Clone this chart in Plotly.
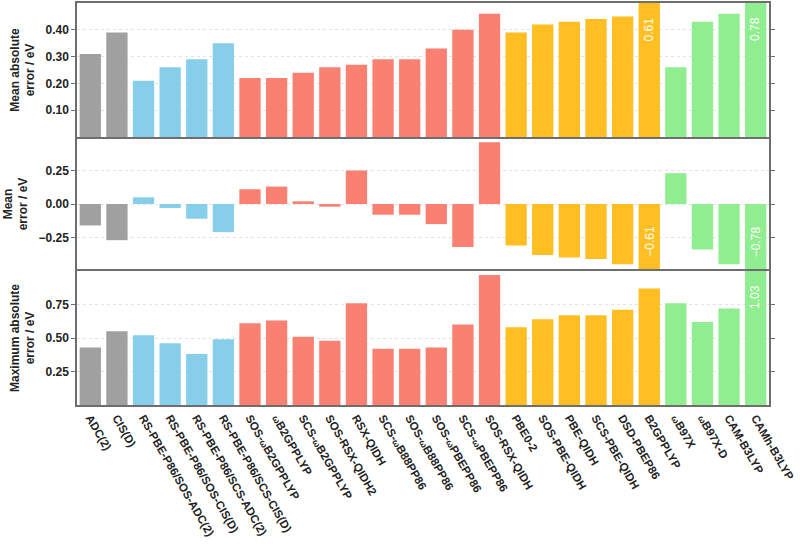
import plotly.graph_objects as go
from plotly.subplots import make_subplots

W = '<span style="font-size:9px">ω</span>'
methods = [
    "ADC(2)", "CIS(D)",
    "RS-PBE-P86/SOS-ADC(2)", "RS-PBE-P86/SOS-CIS(D)",
    "RS-PBE-P86/SCS-ADC(2)", "RS-PBE-P86/SCS-CIS(D)",
    "SOS-" + W + "B2GPPLYP", W + "B2GPPLYP", "SCS-" + W + "B2GPPLYP",
    "SOS-RSX-QIDH2", "RSX-QIDH",
    "SCS-" + W + "B88PP86", "SOS-" + W + "B88PP86",
    "SOS-" + W + "PBEPP86", "SCS-" + W + "PBEPP86", "SOS-RSX-QIDH",
    "PBE0-2", "SOS-PBE-QIDH", "PBE-QIDH", "SCS-PBE-QIDH", "DSD-PBEP86", "B2GPPLYP",
    W + "B97X", W + "B97X-D", "CAM-B3LYP", "CAMh-B3LYP",
]
groups = (["g"] * 2 + ["b"] * 4 + ["s"] * 10 + ["o"] * 6 + ["l"] * 4)

mae = [0.31, 0.39, 0.21, 0.26, 0.29, 0.35, 0.22, 0.22, 0.24, 0.26, 0.27, 0.29, 0.29,
       0.33, 0.40, 0.46, 0.39, 0.42, 0.43, 0.44, 0.45, 0.61, 0.26, 0.43, 0.46, 0.78]
me = [-0.16, -0.27, 0.05, -0.03, -0.11, -0.21, 0.11, 0.13, 0.02, -0.02, 0.25, -0.08, -0.08,
      -0.15, -0.32, 0.46, -0.31, -0.38, -0.40, -0.41, -0.45, -0.61, 0.23, -0.34, -0.45, -0.78]
maxae = [0.43, 0.55, 0.52, 0.46, 0.38, 0.49, 0.61, 0.63, 0.51, 0.48, 0.76, 0.42, 0.42,
         0.43, 0.60, 0.97, 0.58, 0.64, 0.67, 0.67, 0.71, 0.87, 0.76, 0.62, 0.72, 1.03]

palette = {"g": "#A0A0A0", "b": "#87CEEB", "s": "#FA8072", "o": "#FFBF22", "l": "#90EE90"}
colors = [palette[g] for g in groups]

panels = [
    (mae, [0, 0.5], [0.1, 0.2, 0.3, 0.4], "Mean absolute<br>error / eV"),
    (me, [-0.5, 0.5], [-0.25, 0, 0.25], "Mean<br>error / eV"),
    (maxae, [0, 1.0], [0.25, 0.5, 0.75], "Maximum absolute<br>error / eV"),
]

FONT = "Liberation Sans, Arial, sans-serif"
LINE = "#6e6e6e"
fig = make_subplots(rows=3, cols=1, shared_xaxes=True, vertical_spacing=0)
x = list(range(len(methods)))

for i, (vals, rng, tv, title) in enumerate(panels, start=1):
    fig.add_trace(go.Bar(x=x, y=vals, marker=dict(color=colors, line=dict(width=0)),
                         showlegend=False, hoverinfo="skip"), row=i, col=1)
    fig.update_yaxes(range=rng, tickvals=tv, tickformat=".2f", automargin=False,
                     showline=True, mirror="ticks", linecolor=LINE, linewidth=1.5,
                     ticks="outside", ticklen=4, tickcolor=LINE,
                     showgrid=True, gridcolor="#e2e2e2", griddash="dot", zeroline=False,
                     tickfont=dict(family=FONT, size=12, color="#222", weight="bold"),
                     title=dict(text=title, standoff=8,
                                font=dict(family=FONT, size=12, color="#222", weight="bold")),
                     row=i, col=1)
    fig.update_xaxes(range=[-0.5, len(methods) - 0.5], showline=(i != 2), mirror=True,
                     automargin=False,
                     linecolor=LINE, linewidth=1.5, ticks="", showgrid=False,
                     row=i, col=1)
    xref = "x" if i == 1 else "x%d" % i
    yref = "y" if i == 1 else "y%d" % i
    for xi, v in zip(x, vals):
        txt = "%.2f" % v
        shift = 13 + 3.3 * len(txt)
        if v > rng[1]:
            fig.add_annotation(x=xi, y=rng[1], xref=xref, yref=yref,
                               text=txt, showarrow=False, textangle=-90,
                               yanchor="middle", yshift=-shift,
                               font=dict(family=FONT, size=12, color="white"))
        elif v < rng[0]:
            fig.add_annotation(x=xi, y=rng[0], xref=xref, yref=yref,
                               text=txt.replace("-", "\u2212"), showarrow=False, textangle=-90,
                               yanchor="middle", yshift=shift,
                               font=dict(family=FONT, size=12, color="white"))

fig.update_xaxes(tickmode="array", tickvals=x, ticktext=methods, tickangle=60,
                 tickfont=dict(family=FONT, size=11.5, color="#222", weight="bold"),
                 row=3, col=1)

fig.update_layout(width=800, height=544, margin=dict(l=77, r=31, t=3, b=139),
                  paper_bgcolor="white", plot_bgcolor="white", bargap=0.2,
                  font=dict(family=FONT))
fig.write_html("out.html", config={"displayModeBar": False},
               post_script="document.body.style.margin='0';")
